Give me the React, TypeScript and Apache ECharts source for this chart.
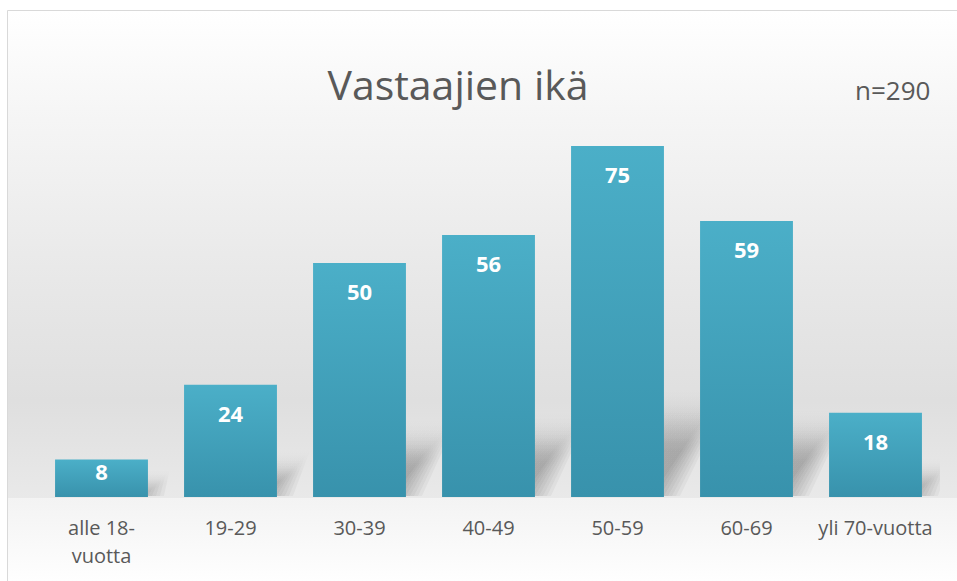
import React, { useEffect, useRef } from "react";
import * as echarts from "echarts";

const categories = ["alle 18-vuotta", "19-29", "30-39", "40-49", "50-59", "60-69", "yli 70-vuotta"];
const counts = [8, 24, 50, 56, 75, 59, 18];
const titleText = "Vastaajien ikä";
const noteText = "n=290";

export default function App() {
  const ref = useRef<HTMLDivElement>(null);
  useEffect(() => {
    if (!ref.current) return;
    const chart = echarts.init(ref.current, null, { renderer: "svg" });
    const barFill = new echarts.graphic.LinearGradient(0, 0, 0, 1, [
      { offset: 0, color: "#4bafc8" },
      { offset: 1, color: "#3892ac" },
    ]);
    const layers = [-12, -8, -4, 0, 4, 8, 12, 16];
    const layerFill = () =>
      new echarts.graphic.LinearGradient(0, 0, 0, 1, [
        { offset: 0, color: "rgba(0,0,0,0)" },
        { offset: 0.5, color: "rgba(0,0,0,0.038)" },
        { offset: 1, color: "rgba(0,0,0,0.04)" },
      ]);
    chart.setOption({
      animation: false,
      textStyle: { fontFamily: "Open Sans" },
      graphic: [
        {
          type: "rect",
          z: -10,
          silent: true,
          shape: { x: 7.5, y: 10.5, width: 960, height: 488 },
          style: {
            fill: new echarts.graphic.LinearGradient(0, 0, 0, 1, [
              { offset: 0, color: "#ffffff" },
              { offset: 0.2, color: "#f6f6f6" },
              { offset: 0.55, color: "#e8e8e8" },
              { offset: 0.8, color: "#dfdfdf" },
              { offset: 1, color: "#e9e9e9" },
            ]),
          },
        },
        {
          type: "rect",
          z: -10,
          silent: true,
          shape: { x: 7.5, y: 498.5, width: 960, height: 90 },
          style: {
            fill: new echarts.graphic.LinearGradient(0, 0, 0, 1, [
              { offset: 0, color: "#f3f3f3" },
              { offset: 1, color: "#ffffff" },
            ]),
          },
        },
        {
          type: "rect",
          z: -9,
          silent: true,
          shape: { x: 7.5, y: 10.5, width: 960, height: 580 },
          style: { fill: "none", stroke: "#d9d9d9", lineWidth: 1 },
        },
      ],
      title: [
        {
          text: titleText,
          left: 453,
          textAlign: "center",
          top: 58,
          textStyle: { fontFamily: "Open Sans", fontSize: 41, fontWeight: "normal", color: "#595959", lineHeight: 42 },
        },
        {
          text: noteText,
          left: 850,
          top: 71,
          textStyle: { fontFamily: "Open Sans", fontSize: 26, fontWeight: "normal", color: "#595959", lineHeight: 27 },
        },
      ],
      grid: { left: 37, right: 17, top: 122.6, bottom: 84 },
      xAxis: {
        type: "category",
        data: categories,
        axisLine: { show: false },
        axisTick: { show: false },
        axisLabel: {
          interval: 0,
          color: "#595959",
          fontSize: 20,
          lineHeight: 28,
          margin: 16,
          formatter: (v: string) => (v.length > 13 ? v.replace("-", "-\n") : v),
        },
      },
      yAxis: { type: "value", min: 0, max: 80, show: false, splitLine: { show: false } },
      series: [
        {
          type: "custom",
          clip: true,
          z: 1,
          silent: true,
          data: counts.map((v, i) => [i, v]),
          encode: { x: 0, y: 1 },
          renderItem: (params: any, api: any) => {
            const v = api.value(1);
            const base = api.coord([api.value(0), 0]);
            const top = api.coord([api.value(0), v]);
            const cw = api.size([1, 0])[0];
            const bw = cw * 0.72;
            const x0 = base[0] - bw / 2;
            const x1 = base[0] + bw / 2;
            const h = base[1] - top[1];
            const dy = h * 0.26;
            const dx = h * 0.15;
            const yb = base[1] - 1;
            return {
              type: "group",
              children: layers.map((e) => ({
                type: "polygon",
                shape: {
                  points: [
                    [x0, yb],
                    [x1 + e, yb],
                    [x1 + dx + e, yb - dy - e],
                    [x0 + dx, yb - dy - e],
                  ],
                },
                style: { fill: layerFill() },
              })),
            };
          },
        },
        {
          type: "bar",
          z: 3,
          barCategoryGap: "28%",
          data: counts.map((v) => (v < 10 ? { value: v, label: { distance: 0 } } : v)),
          itemStyle: { color: barFill },
          label: {
            show: true,
            position: "insideTop",
            distance: 17,
            color: "#ffffff",
            fontSize: 22,
            fontWeight: "bold",
            fontFamily: "Open Sans",
          },
        },
      ],
    });
    return () => chart.dispose();
  }, []);
  return <div ref={ref} style={{ width: 957, height: 581, position: "absolute", left: 0, top: 0 }} />;
}
